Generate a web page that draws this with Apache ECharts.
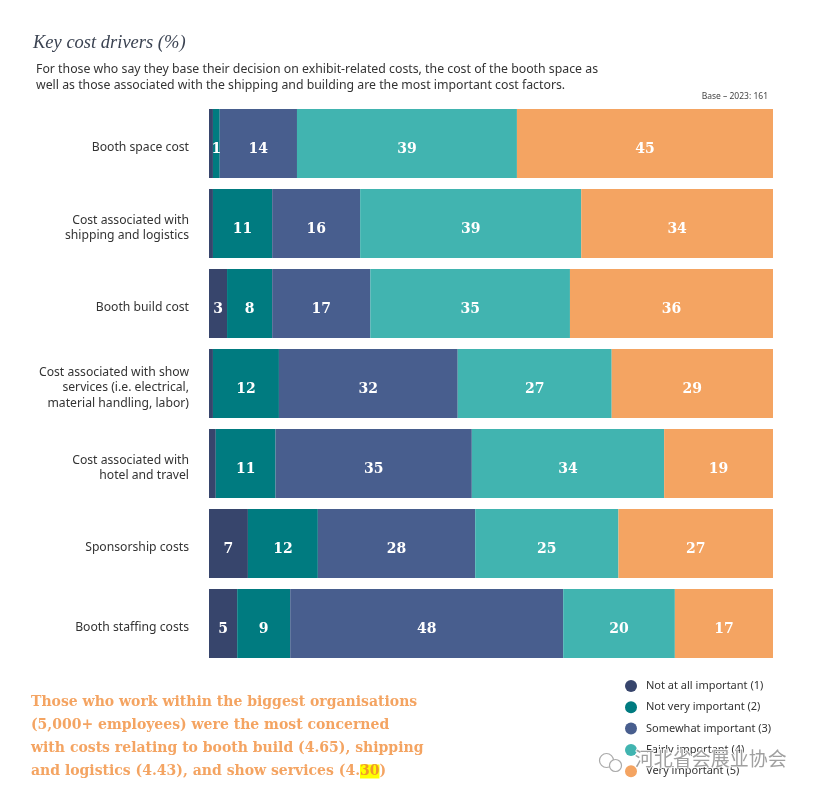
<!DOCTYPE html>
<html>
<head>
<meta charset="utf-8">
<script src="https://cdn.jsdelivr.net/npm/echarts@6/dist/echarts.min.js"></script>
<style>
  html, body { margin: 0; padding: 0; background: #fff; }
  #chart { width: 814px; height: 797px; }
</style>
</head>
<body>
<div id="chart"></div>
<script>
// categories, top to bottom
const categories = [
  'Booth space cost',
  'Cost associated with\nshipping and logistics',
  'Booth build cost',
  'Cost associated with show\nservices (i.e. electrical,\nmaterial handling, labor)',
  'Cost associated with\nhotel and travel',
  'Sponsorship costs',
  'Booth staffing costs'
];

const seriesNames = [
  'Not at all important (1)',
  'Not very important (2)',
  'Somewhat important (3)',
  'Fairly important (4)',
  'Very important (5)'
];

// % values
const notAtAll     = [0.7, 0.7, 3.2, 0.7, 1.2, 6.9, 5.0];
const notVery      = [1.2, 10.5, 8.0, 11.7, 10.6, 12.4, 9.4];
const somewhat     = [13.7, 15.6, 17.4, 31.7, 34.8, 27.9, 48.4];
const fairly       = [39.0, 39.2, 35.4, 27.3, 34.1, 25.4, 19.8];
const veryImp      = [45.4, 34.0, 36.0, 28.6, 19.3, 27.4, 17.4];

const colors = ['#37456c', '#007b80', '#485e8e', '#41b4b0', '#f4a462'];
// smallest value that still gets a printed label, per series
const minLabel = [2, 1, 1, 1, 1];

const chart = echarts.init(document.getElementById('chart'));

const allData = [notAtAll, notVery, somewhat, fairly, veryImp];

const series = allData.map((d, i) => ({
  name: seriesNames[i],
  type: 'bar',
  stack: 'total',
  barWidth: 69,
  data: d,
  itemStyle: { color: colors[i] },
  label: {
    show: true,
    position: 'inside',
    offset: [0, 5.5],
    color: '#fff',
    fontFamily: 'DejaVu Serif',
    fontWeight: 'bold',
    fontSize: 14,
    formatter: p => (p.value >= minLabel[i] ? Math.round(p.value) : '')
  },
  emphasis: { disabled: true }
}));

const option = {
  animation: false,
  color: colors,
  title: [
    {
      text: 'Key cost drivers (%)',
      left: 28,
      top: 29,
      textStyle: {
        fontFamily: 'Liberation Serif',
        fontStyle: 'italic',
        fontWeight: 'normal',
        fontSize: 18.5,
        color: '#3b4352'
      }
    },
    {
      text: 'For those who say they base their decision on exhibit-related costs, the cost of the booth space as\nwell as those associated with the shipping and building are the most important cost factors.',
      left: 31,
      top: 56,
      textStyle: {
        fontFamily: 'Noto Sans',
        fontWeight: 'normal',
        fontSize: 12.3,
        lineHeight: 16.5,
        color: '#333'
      }
    },
    {
      text: 'Base – 2023: 161',
      right: 41,
      top: 87,
      textStyle: {
        fontFamily: 'Noto Sans',
        fontWeight: 'normal',
        fontSize: 8.5,
        color: '#444'
      }
    }
  ],
  legend: {
    orient: 'vertical',
    left: 620,
    top: 675,
    itemGap: 9.3,
    itemWidth: 12,
    itemHeight: 12,
    icon: 'circle',
    selectedMode: false,
    textStyle: { fontFamily: 'Noto Sans', fontSize: 11, color: '#333', padding: [0, 0, 0, 4] },
    data: seriesNames
  },
  grid: { left: 209, right: 41, top: 103.5, height: 560 },
  xAxis: {
    type: 'value',
    min: 0,
    max: 100,
    show: false
  },
  yAxis: {
    type: 'category',
    inverse: true,
    data: categories,
    axisLine: { show: false },
    axisTick: { show: false },
    axisLabel: {
      margin: 20,
      fontFamily: 'Noto Sans',
      fontSize: 12.2,
      lineHeight: 15.5,
      color: '#333',
      // thin empty first line nudges the block down a few px
      formatter: v => '{s| }\n' + v,
      rich: {
        s: { fontSize: 1, lineHeight: 9 }
      }
    }
  },
  graphic: [
    {
      type: 'text',
      left: 31,
      top: 691,
      style: {
        text: 'Those who work within the biggest organisations\n(5,000+ employees) were the most concerned\nwith costs relating to booth build (4.65), shipping\nand logistics (4.43), and show services (4.{hl|30})',
        fontFamily: 'DejaVu Serif',
        fontWeight: 'bold',
        fontSize: 14,
        lineHeight: 23,
        fill: '#f4a462',
        rich: {
          hl: {
            fontFamily: 'DejaVu Serif',
            fontWeight: 'bold',
            fontSize: 14,
            fill: '#f09a2a',
            backgroundColor: '#ffff00'
          }
        }
      }
    },
    {
      type: 'text',
      left: 634,
      top: 749,
      z: 100,
      style: {
        text: '河北省会展业协会',
        fontFamily: 'Noto Sans CJK SC',
        fontSize: 19,
        fill: '#a0a0a0',
        stroke: '#ffffff',
        lineWidth: 1.5
      }
    },
    {
      type: 'group',
      left: 597,
      top: 751,
      z: 100,
      children: [
        { type: 'circle', shape: { cx: 8, cy: 7, r: 7 }, style: { fill: 'none', stroke: '#aaa', lineWidth: 1.2 } },
        { type: 'circle', shape: { cx: 17, cy: 12, r: 6 }, style: { fill: '#fff', stroke: '#aaa', lineWidth: 1.2 } }
      ]
    }
  ],
  series: series
};

chart.setOption(option);
window.addEventListener('resize', () => chart.resize());
</script>
</body>
</html>
